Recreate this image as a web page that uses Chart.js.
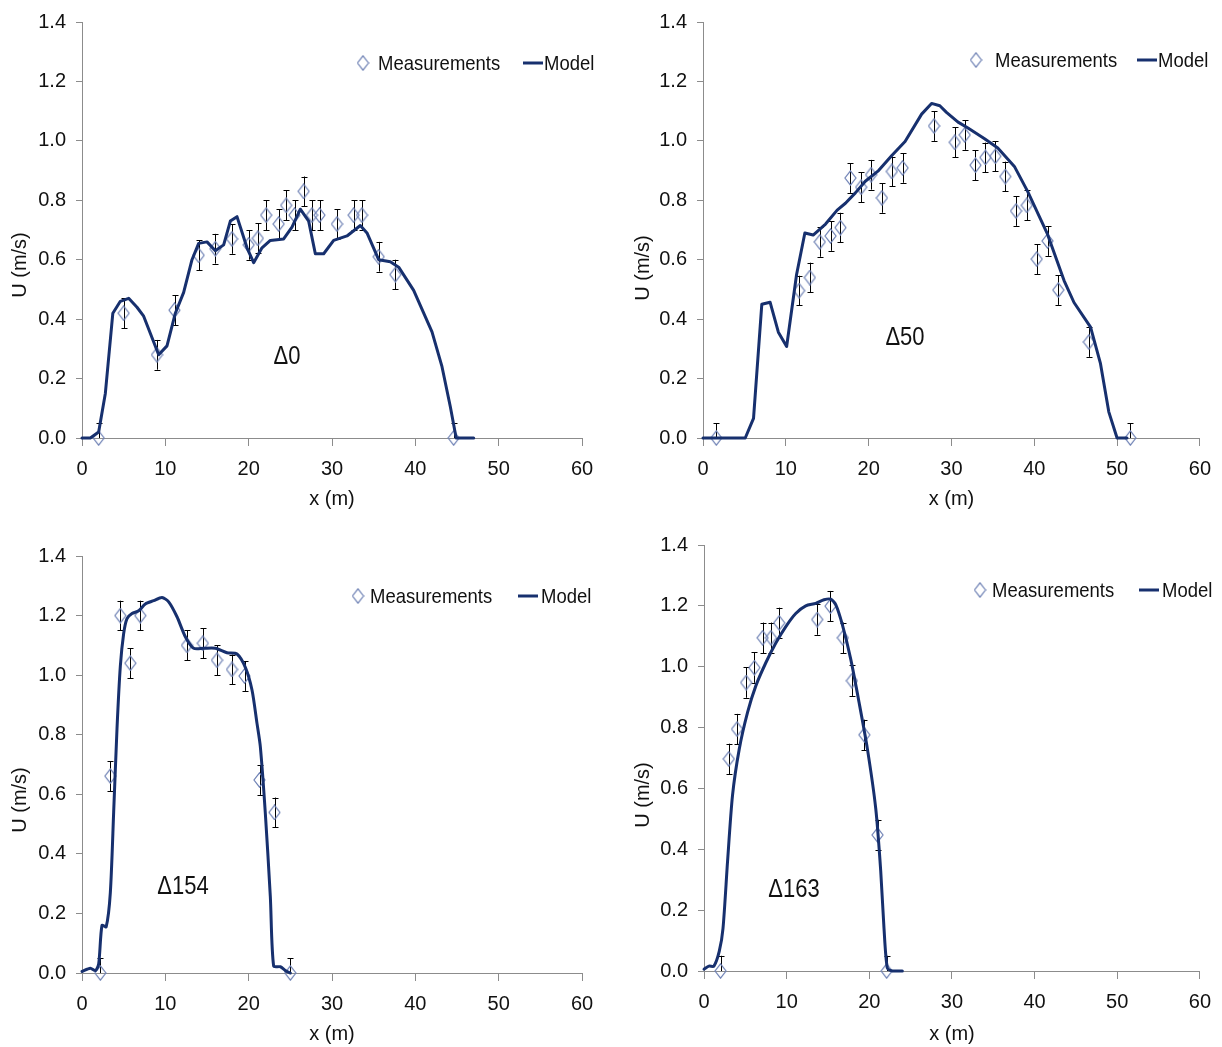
<!DOCTYPE html>
<html><head><meta charset="utf-8">
<script src="https://cdn.jsdelivr.net/npm/chart.js@4.4.1/dist/chart.umd.min.js"></script>
<style>
html,body{margin:0;padding:0;background:#fff;}
#wrap{position:relative;width:1222px;height:1047px;overflow:hidden;}
canvas{position:absolute;}
</style>
</head><body><div id="wrap">
<canvas id="c1" width="611" height="523" style="left:0px;top:0px"></canvas>
<canvas id="c2" width="611" height="523" style="left:611px;top:0px"></canvas>
<canvas id="c3" width="611" height="524" style="left:0px;top:523px"></canvas>
<canvas id="c4" width="611" height="524" style="left:611px;top:523px"></canvas>
</div>
<script>
// ---------------- DATA ----------------
const X_TICKS = [0, 10, 20, 30, 40, 50, 60];
const Y_TICKS = [0, 0.2, 0.4, 0.6, 0.8, 1.0, 1.2, 1.4];
const SERIES_NAMES = ['Measurements', 'Model'];
const PANEL_LABELS = ['\u03940', '\u039450', '\u0394154', '\u0394163'];
const X_TITLE = 'x (m)';
const Y_TITLE = 'U (m/s)';

// Panel Δ0
const P1_MODEL_X = [0, 1, 2.0, 2.8, 3.7, 4.6, 5.6, 6.6, 7.4, 9.2, 10.2, 11.2, 12.2, 13.2, 14.0, 15.0, 16.0, 17.0, 17.8, 18.6, 19.8, 20.6, 21.6, 22.6, 24.2, 25.2, 26.2, 27.2, 28.0, 29.0, 30.2, 31.8, 33.4, 34.2, 35.6, 37.0, 38.0, 39.8, 42.0, 43.2, 44.2, 44.9, 47];
const P1_MODEL_U = [0, 0, 0.02, 0.15, 0.42, 0.46, 0.47, 0.44, 0.41, 0.28, 0.31, 0.42, 0.49, 0.60, 0.655, 0.66, 0.63, 0.65, 0.73, 0.745, 0.64, 0.59, 0.64, 0.665, 0.67, 0.71, 0.77, 0.73, 0.62, 0.62, 0.665, 0.68, 0.715, 0.69, 0.60, 0.593, 0.575, 0.497, 0.357, 0.24, 0.105, 0, 0];
const P1_MEAS_X = [2.0, 5.0, 9.0, 11.1, 14.0, 16.0, 18.0, 20.0, 21.1, 22.1, 23.6, 24.5, 25.5, 26.6, 27.6, 28.5, 30.6, 32.6, 33.6, 35.6, 37.6, 44.6];
const P1_MEAS_U = [0, 0.42, 0.28, 0.43, 0.615, 0.637, 0.67, 0.65, 0.672, 0.75, 0.72, 0.783, 0.75, 0.83, 0.75, 0.75, 0.72, 0.75, 0.75, 0.61, 0.55, 0];
const P1_ERR    = [0.05, 0.05, 0.05, 0.05, 0.05, 0.05, 0.05, 0.05, 0.05, 0.05, 0.05, 0.05, 0.05, 0.05, 0.05, 0.05, 0.05, 0.05, 0.05, 0.05, 0.05, 0.05];

// Panel Δ50
const P2_MODEL_X = [0, 5.1, 6.1, 7.1, 8.1, 9.1, 10.1, 11.3, 12.3, 13.3, 14.8, 16.2, 17.2, 18.4, 19.6, 21.2, 22.8, 24.4, 26.4, 27.6, 28.6, 29.4, 30.8, 32.0, 34.0, 35.6, 37.6, 39.2, 41.6, 43.6, 44.8, 46.8, 48.0, 49.0, 50.0, 51.2];
const P2_MODEL_U = [0, 0, 0.066, 0.45, 0.457, 0.356, 0.308, 0.55, 0.69, 0.683, 0.72, 0.767, 0.79, 0.825, 0.864, 0.90, 0.951, 0.998, 1.09, 1.126, 1.118, 1.096, 1.063, 1.043, 1.007, 0.976, 0.914, 0.83, 0.686, 0.53, 0.456, 0.373, 0.25, 0.088, 0, 0];
const P2_MEAS_X = [1.6, 11.6, 12.9, 14.1, 15.4, 16.6, 17.8, 19.1, 20.3, 21.6, 22.8, 24.1, 27.9, 30.4, 31.6, 32.9, 34.1, 35.3, 36.5, 37.8, 39.1, 40.3, 41.6, 42.9, 46.6, 51.6];
const P2_MEAS_U = [0, 0.496, 0.54, 0.66, 0.68, 0.708, 0.875, 0.844, 0.886, 0.808, 0.897, 0.909, 1.05, 0.995, 1.02, 0.918, 0.944, 0.948, 0.88, 0.764, 0.783, 0.602, 0.663, 0.498, 0.323, 0];
const P2_ERR    = [0.05, 0.05, 0.05, 0.05, 0.05, 0.05, 0.05, 0.05, 0.05, 0.05, 0.05, 0.05, 0.05, 0.05, 0.05, 0.05, 0.05, 0.05, 0.05, 0.05, 0.05, 0.05, 0.05, 0.05, 0.05, 0.05];

// Panel Δ154
const P3_MODEL_X = [0, 1.0, 1.6, 2.0, 2.4, 2.9, 3.4, 3.8, 4.2, 4.6, 5.0, 5.4, 6.0, 6.8, 7.6, 8.6, 9.6, 10.4, 11.4, 12.4, 13.4, 14.6, 16.0, 17.4, 18.6, 19.6, 20.4, 21.0, 21.4, 22.0, 22.6, 23.0, 23.8, 24.4, 25.0];
const P3_MODEL_U = [0.005, 0.016, 0.008, 0.03, 0.16, 0.155, 0.27, 0.54, 0.82, 1.03, 1.14, 1.19, 1.207, 1.216, 1.239, 1.25, 1.261, 1.246, 1.196, 1.129, 1.09, 1.09, 1.09, 1.075, 1.071, 1.026, 0.95, 0.838, 0.76, 0.536, 0.256, 0.023, 0.021, 0.008, 0];
const P3_MEAS_X = [2.2, 3.4, 4.6, 5.8, 7.0, 12.6, 14.5, 16.2, 18.0, 19.5, 21.3, 23.1, 25.0];
const P3_MEAS_U = [0, 0.661, 1.2, 1.04, 1.2, 1.10, 1.107, 1.05, 1.019, 0.997, 0.648, 0.539, 0];
const P3_ERR    = [0.05, 0.05, 0.05, 0.05, 0.05, 0.05, 0.05, 0.05, 0.05, 0.05, 0.05, 0.05, 0.05];

// Panel Δ163
const P4_MODEL_X = [0, 0.6, 1.2, 1.85, 2.3, 2.85, 3.45, 4.27, 5.27, 6.27, 7.48, 8.69, 9.9, 11.1, 12.31, 13.52, 14.52, 15.33, 15.94, 16.74, 17.76, 18.76, 19.77, 20.78, 21.38, 21.78, 22.18, 22.79, 24];
const P4_MODEL_U = [0.006, 0.016, 0.016, 0.065, 0.14, 0.36, 0.577, 0.73, 0.85, 0.937, 1.013, 1.078, 1.132, 1.175, 1.20, 1.208, 1.22, 1.222, 1.204, 1.138, 1.024, 0.883, 0.73, 0.534, 0.33, 0.14, 0.01, 0, 0];
const P4_MEAS_X = [2.0, 3.0, 4.0, 5.1, 6.1, 7.1, 8.1, 9.1, 13.7, 15.3, 16.8, 17.9, 19.4, 21.0, 22.1];
const P4_MEAS_U = [0, 0.697, 0.795, 0.948, 0.997, 1.095, 1.095, 1.144, 1.155, 1.199, 1.095, 0.954, 0.776, 0.447, 0];
const P4_ERR    = [0.05, 0.05, 0.05, 0.05, 0.05, 0.05, 0.05, 0.05, 0.05, 0.05, 0.05, 0.05, 0.05, 0.05, 0.05];

// ---------------- STYLE ----------------
const FAMILY = "'Liberation Sans', Arial, sans-serif";
const TEXT = '#111';
const LINE_COLOR = '#17306e';
const DIAMOND_COLOR = '#6f82b5';
const AXIS_COLOR = '#8c8c8c';
const FS = 20;          // tick / axis title size
const LEG_FS = 21;      // legend text (horizontally condensed)
const LAB_FS = 25;      // panel label
const SQUEEZE = 0.88;   // horizontal condensing of legend / label text

Chart.defaults.font.family = FAMILY;
Chart.defaults.font.size = FS;
Chart.defaults.color = TEXT;

// diamond marker image (taller than wide, unfilled)
const diamond = document.createElement('canvas');
diamond.width = 13; diamond.height = 16;
(function(){
  const g = diamond.getContext('2d');
  g.strokeStyle = DIAMOND_COLOR; g.lineWidth = 1.2;
  g.beginPath();
  g.moveTo(6.5, 0.8); g.lineTo(12, 8); g.lineTo(6.5, 15.2); g.lineTo(1, 8); g.closePath();
  g.stroke();
})();

function squeezedText(ctx, text, x, y, align) {
  ctx.save();
  ctx.translate(x, y);
  ctx.scale(SQUEEZE, 1);
  ctx.textAlign = align;
  ctx.fillText(text, 0, 0);
  ctx.restore();
}

const decor = {
  id: 'decor',
  beforeDatasetsDraw(chart, args, o) {
    const {ctx, chartArea: a, scales: {x, y}} = chart;
    ctx.save();
    ctx.beginPath(); ctx.rect(a.left, a.top - 1, a.right - a.left, a.bottom - a.top + 1); ctx.clip();
    ctx.strokeStyle = '#000'; ctx.lineWidth = 1;
    o.mx.forEach((xv, i) => {
      const px = Math.round(x.getPixelForValue(xv)) + 0.5;
      const y1 = y.getPixelForValue(o.mu[i] - o.err[i]);
      const y2 = y.getPixelForValue(o.mu[i] + o.err[i]);
      ctx.beginPath();
      ctx.moveTo(px, y1); ctx.lineTo(px, y2);
      ctx.moveTo(px - 3, Math.round(y1) + 0.5); ctx.lineTo(px + 3, Math.round(y1) + 0.5);
      ctx.moveTo(px - 3, Math.round(y2) + 0.5); ctx.lineTo(px + 3, Math.round(y2) + 0.5);
      ctx.stroke();
    });
    ctx.restore();
  },
  afterDraw(chart, args, o) {
    const ctx = chart.ctx;
    ctx.save();
    // legend
    const L = o.legend;
    ctx.drawImage(diamond, L.dx - 6.5, L.y - 8);
    ctx.font = LEG_FS + 'px ' + FAMILY;
    ctx.fillStyle = TEXT;
    ctx.textBaseline = 'middle';
    squeezedText(ctx, SERIES_NAMES[0], L.tx, L.y + 1, 'left');
    ctx.strokeStyle = LINE_COLOR; ctx.lineWidth = 3;
    ctx.beginPath(); ctx.moveTo(L.l1, L.y); ctx.lineTo(L.l2, L.y); ctx.stroke();
    squeezedText(ctx, SERIES_NAMES[1], L.mx, L.y + 1, 'left');
    // panel label
    ctx.font = LAB_FS + 'px ' + FAMILY;
    squeezedText(ctx, o.label, o.lx, o.ly, 'center');
    // y title
    ctx.font = FS + 'px ' + FAMILY;
    ctx.translate(o.yt[0], o.yt[1]);
    ctx.rotate(-Math.PI / 2);
    ctx.textAlign = 'center';
    ctx.fillText(Y_TITLE, 0, 0);
    ctx.restore();
  }
};

function makePanel(id, mx, mu, err, modx, modu, box, deco, smooth) {
  const cv = document.getElementById(id);
  const W = cv.width, H = cv.height;
  return new Chart(cv, {
    type: 'scatter',
    data: {
      datasets: [
        {
          label: SERIES_NAMES[0],
          data: mx.map((v, i) => ({x: v, y: mu[i]})),
          pointStyle: diamond,
          pointRadius: 6,
          showLine: false,
          clip: false,
          order: 2
        },
        {
          label: SERIES_NAMES[1],
          data: modx.map((v, i) => ({x: v, y: modu[i]})),
          showLine: true,
          borderColor: LINE_COLOR,
          borderWidth: 3,
          pointRadius: 0,
          tension: smooth ? 0.25 : 0,
          borderJoinStyle: 'round',
          borderCapStyle: 'round',
          clip: 3,
          order: 1
        }
      ]
    },
    options: {
      responsive: false,
      animation: false,
      events: [],
      layout: {padding: {left: 0, top: box.T, right: W - box.R, bottom: 0}},
      plugins: {
        legend: {display: false},
        tooltip: {enabled: false},
        decor: Object.assign({mx: mx, mu: mu, err: err}, deco)
      },
      scales: {
        x: {
          type: 'linear', min: 0, max: 60,
          afterBuildTicks: s => { s.ticks = X_TICKS.map(v => ({value: v})); },
          afterFit: s => { s.height = H - box.B; },
          border: {display: true, color: AXIS_COLOR, width: 1},
          grid: {drawOnChartArea: false, drawTicks: true, tickLength: 8, color: AXIS_COLOR},
          ticks: {padding: 11, color: TEXT, font: {size: FS}, maxRotation: 0},
          title: {display: true, text: X_TITLE, color: TEXT, font: {size: FS}, padding: {top: 0, bottom: deco.xtPad}}
        },
        y: {
          type: 'linear', min: 0, max: 1.4,
          afterBuildTicks: s => { s.ticks = Y_TICKS.map(v => ({value: v})); },
          afterFit: s => { s.width = box.L; },
          border: {display: true, color: AXIS_COLOR, width: 1},
          grid: {drawOnChartArea: false, drawTicks: true, tickLength: 6, color: AXIS_COLOR},
          ticks: {padding: 10, color: TEXT, font: {size: FS}, callback: v => Number(v).toFixed(1)}
        }
      }
    },
    plugins: [decor]
  });
}

makePanel('c1', P1_MEAS_X, P1_MEAS_U, P1_ERR, P1_MODEL_X, P1_MODEL_U,
  {L: 82, R: 582, T: 21, B: 438},
  {label: PANEL_LABELS[0], lx: 287, ly: 357, yt: [20, 265], xtPad: 12,
   legend: {dx: 363, tx: 378, l1: 523, l2: 543, mx: 544, y: 63}}, false);

makePanel('c2', P2_MEAS_X, P2_MEAS_U, P2_ERR, P2_MODEL_X, P2_MODEL_U,
  {L: 92, R: 592, T: 20, B: 438},
  {label: PANEL_LABELS[1], lx: 294, ly: 338, yt: [32, 268], xtPad: 12,
   legend: {dx: 365, tx: 384, l1: 526, l2: 546, mx: 547, y: 60}}, false);

makePanel('c3', P3_MEAS_X, P3_MEAS_U, P3_ERR, P3_MODEL_X, P3_MODEL_U,
  {L: 82, R: 582, T: 33, B: 450},
  {label: PANEL_LABELS[2], lx: 183, ly: 364, yt: [20, 277], xtPad: 1,
   legend: {dx: 358, tx: 370, l1: 518, l2: 538, mx: 541, y: 73}}, true);

makePanel('c4', P4_MEAS_X, P4_MEAS_U, P4_ERR, P4_MODEL_X, P4_MODEL_U,
  {L: 93, R: 592, T: 19, B: 448},
  {label: PANEL_LABELS[3], lx: 183, ly: 367, yt: [32, 272], xtPad: 1,
   legend: {dx: 369, tx: 381, l1: 528, l2: 548, mx: 551, y: 67}}, true);
</script>
</body></html>
